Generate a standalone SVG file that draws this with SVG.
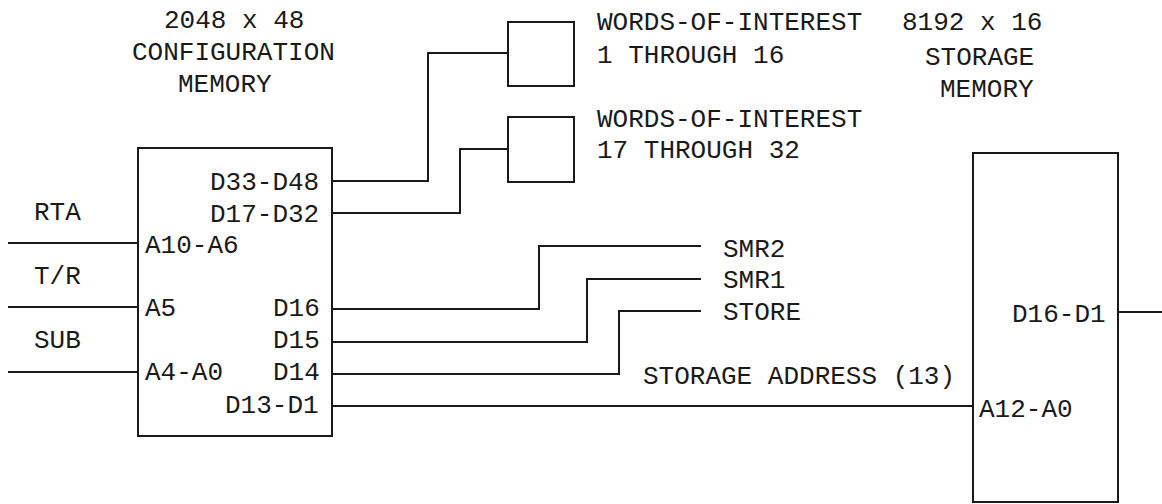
<svg xmlns="http://www.w3.org/2000/svg" width="1162" height="504" viewBox="0 0 1162 504">
<style>
text{font-family:"Liberation Mono","Courier New",monospace;font-size:26px;fill:#1a1a1a}
.box{fill:none;stroke:#1a1a1a;stroke-width:2}
.wire{fill:none;stroke:#1a1a1a;stroke-width:2}
</style>
<rect width="1162" height="504" fill="#fff"/>
<g id="config-memory">
<text x="164" y="28">2048 x 48</text>
<text x="132" y="60">CONFIGURATION</text>
<text x="178" y="92">MEMORY</text>
<rect class="box" x="138" y="148" width="194" height="288"/>
<text x="210" y="190">D33-D48</text>
<text x="210" y="222">D17-D32</text>
<text x="145" y="253">A10-A6</text>
<text x="145" y="316">A5</text>
<text x="273" y="316">D16</text>
<text x="273" y="348">D15</text>
<text x="145" y="380">A4-A0</text>
<text x="273" y="380">D14</text>
<text x="225" y="413">D13-D1</text>
</g>
<g id="woi-1-16">
<rect class="box" x="508" y="22" width="66" height="64"/>
<text x="597" y="30">WORDS-OF-INTEREST</text>
<text x="597" y="63">1 THROUGH 16</text>
</g>
<g id="woi-17-32">
<rect class="box" x="508" y="117" width="66" height="65"/>
<text x="597" y="127">WORDS-OF-INTEREST</text>
<text x="597" y="158">17 THROUGH 32</text>
</g>
<g id="storage-memory">
<text x="902" y="30">8192 x 16</text>
<text x="925" y="65">STORAGE</text>
<text x="940" y="97">MEMORY</text>
<rect class="box" x="973" y="153" width="145" height="349"/>
<text x="1012" y="322">D16-D1</text>
<text x="979" y="417">A12-A0</text>
</g>
<g id="labels">
<text x="34" y="220">RTA</text>
<text x="34" y="284">T/R</text>
<text x="34" y="348">SUB</text>
<text x="723" y="257">SMR2</text>
<text x="723" y="288">SMR1</text>
<text x="723" y="320">STORE</text>
<text x="643" y="384">STORAGE ADDRESS (13)</text>
</g>
<g id="connectors">
<path class="wire" d="M8 243H138"/>
<path class="wire" d="M8 307H138"/>
<path class="wire" d="M8 372H138"/>
<path class="wire" d="M332 181H428V53H508"/>
<path class="wire" d="M332 213H460V149H508"/>
<path class="wire" d="M332 309H539V246H701"/>
<path class="wire" d="M332 342H587V279H701"/>
<path class="wire" d="M332 374H619V311H701"/>
<path class="wire" d="M332 406H973"/>
<path class="wire" d="M1118 312H1162"/>
</g>
</svg>
